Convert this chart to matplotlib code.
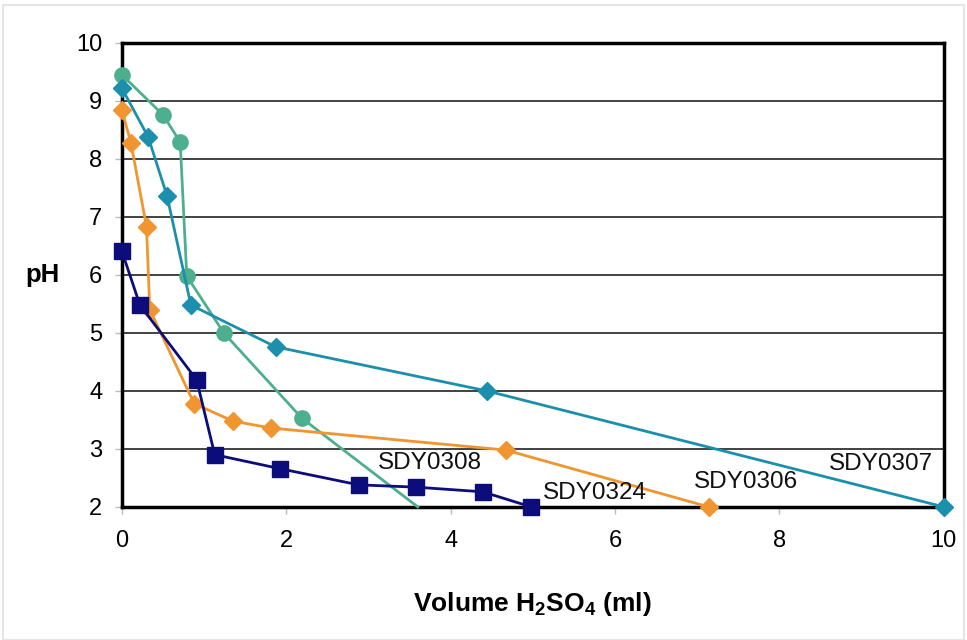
import matplotlib
matplotlib.use("Agg")
import matplotlib.pyplot as plt
from matplotlib.patches import Rectangle

plt.rcParams['font.family'] = ['Liberation Sans', 'DejaVu Sans']

# SDY0308 (green circles)
x_0308 = [0, 0.5, 0.71, 0.79, 1.24, 2.19, 3.6]
y_0308 = [9.45, 8.76, 8.29, 5.98, 5.0, 3.53, 2.0]

# SDY0307 (teal diamonds)
x_0307 = [0, 0.32, 0.55, 0.84, 1.87, 4.44, 10.0]
y_0307 = [9.22, 8.38, 7.36, 5.48, 4.76, 4.0, 2.0]

# SDY0306 (orange diamonds)
x_0306 = [0, 0.11, 0.30, 0.34, 0.88, 1.35, 1.81, 4.67, 7.14]
y_0306 = [8.84, 8.28, 6.83, 5.40, 3.78, 3.48, 3.36, 2.98, 2.0]

# SDY0324 (navy squares)
x_0324 = [0, 0.22, 0.91, 1.13, 1.92, 2.88, 3.58, 4.39, 4.98]
y_0324 = [6.41, 5.48, 4.19, 2.9, 2.66, 2.38, 2.34, 2.26, 2.0]

labels = ['SDY0308', 'SDY0324', 'SDY0306', 'SDY0307']
label_x = [3.12, 5.12, 6.96, 8.6]
label_y = [2.76, 2.24, 2.43, 2.74]

fig = plt.figure(figsize=(9.67, 6.4), dpi=100)
# faint frame round the picture
fig.patches.append(Rectangle((0.003, 0.0), 0.994, 0.992, transform=fig.transFigure,
                             fill=False, edgecolor='#e6e6e6', lw=1.5))
ax = fig.add_axes([0.126, 0.208, 0.85, 0.725])

for yy in range(3, 10):
    ax.axhline(yy, color='#333333', lw=1.3, zorder=1)

ax.plot(x_0308, y_0308, color='#4daf8e', lw=2, marker='o', ms=11,
        markevery=list(range(len(x_0308) - 1)), zorder=3, clip_on=False)
ax.plot(x_0307, y_0307, color='#1b8fab', lw=2, marker='D', ms=9, zorder=3, clip_on=False)
ax.plot(x_0306, y_0306, color='#f0952f', lw=2, marker='D', ms=9, zorder=3, clip_on=False)
ax.plot(x_0324, y_0324, color='#0c0c7a', lw=2, marker='s', ms=11, zorder=4, clip_on=False)

for t, lx, ly in zip(labels, label_x, label_y):
    ax.text(lx, ly, t, fontsize=17.5, va='center', ha='left', color='#111111', zorder=5)

ax.set_xlim(0, 10)
ax.set_ylim(2, 10)
ax.set_xticks(range(0, 11, 2))
ax.set_yticks(range(2, 11))
ax.tick_params(axis='both', labelsize=17, colors='#bbbbbb', labelcolor='black',
               length=5, width=1, direction='out')
ax.tick_params(axis='x', pad=12)
ax.tick_params(axis='y', pad=9)
for s in ax.spines.values():
    s.set_linewidth(2.5)
    s.set_color('black')
ax.set_ylabel('pH', fontsize=18.5, fontweight='bold', rotation=0, labelpad=24, va='center')
ax.set_xlabel('Volume H$_\\mathregular{2}$SO$_\\mathregular{4}$ (ml)', fontsize=19,
              fontweight='bold', labelpad=27)

fig.savefig('out.png', dpi=100)
